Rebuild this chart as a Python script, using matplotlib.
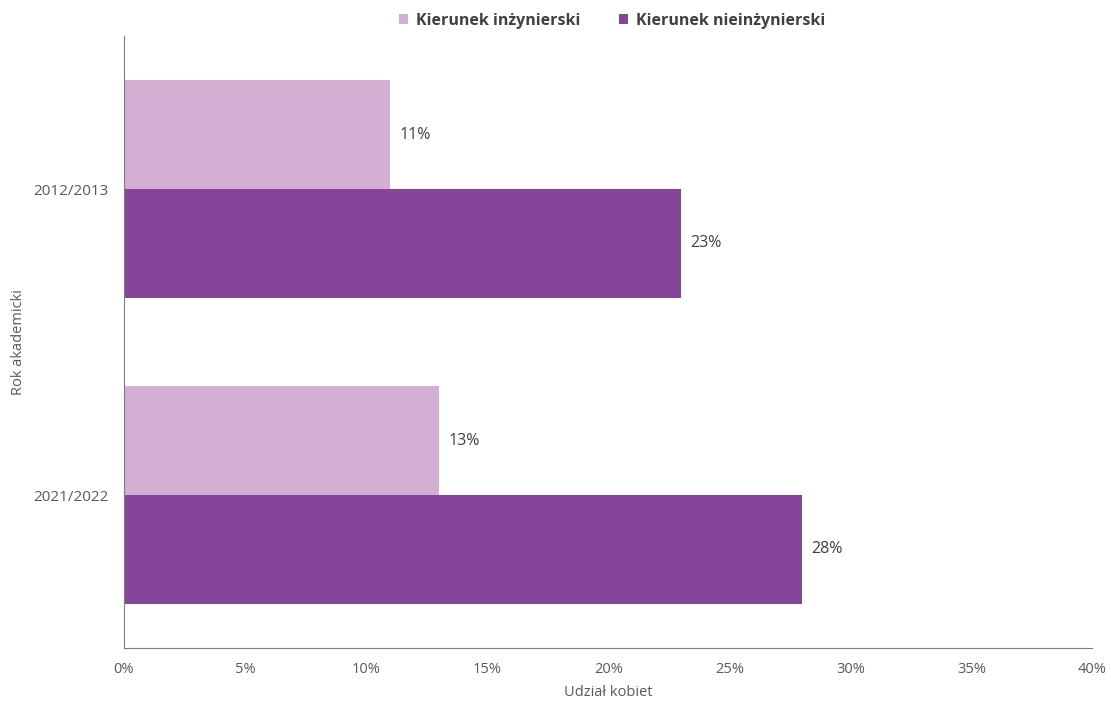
import numpy as np
import matplotlib.pyplot as plt

plt.rcParams['font.family'] = ['Open Sans', 'DejaVu Sans']

lata = ["2012/2013", "2021/2022"]
inzynierski = [11, 13]
nieinzynierski = [23, 28]
serie = ["Kierunek inżynierski", "Kierunek nieinżynierski"]
kolory = ["#D4AED3", "#874599"]

fig = plt.figure(figsize=(11.11, 7.01), dpi=100)
ax = fig.add_axes([0.1116, 0.0756, 0.8717, 0.873])

y = np.arange(len(lata))
h = 0.355
b1 = ax.barh(y - h / 2, inzynierski, height=h, color=kolory[0], label=serie[0])
b2 = ax.barh(y + h / 2, nieinzynierski, height=h, color=kolory[1], label=serie[1])

for bars in (b1, b2):
    for r in bars:
        w = r.get_width()
        ax.text(w + 0.4, r.get_y() + r.get_height() / 2, f"{w:.0f}%",
                va="center", ha="left", fontsize=11.5, color="#404040")

ax.set_xlim(0, 40)
ax.set_ylim(1.5, -0.5)
ax.set_xticks(range(0, 41, 5))
ax.set_xticklabels([f"{v}%" for v in range(0, 41, 5)])
ax.set_yticks(y)
ax.set_yticklabels(lata)
ax.tick_params(length=0, labelsize=10.5, labelcolor="#595959")
ax.tick_params(axis="x", pad=10)
ax.tick_params(axis="y", labelsize=11, pad=11)

for s in ("top", "right"):
    ax.spines[s].set_visible(False)
ax.spines["left"].set_color("#7F7F7F")
ax.spines["bottom"].set_color("#7F7F7F")

ax.set_xlabel("Udział kobiet", fontsize=10.5, color="#595959", labelpad=6)
ax.set_ylabel("Rok akademicki", fontsize=10.5, color="#595959")
ax.yaxis.set_label_coords(-0.101, 0.5)

fig.legend(handles=[b1, b2], labels=serie, loc="center", bbox_to_anchor=(0.551, 0.97),
           ncol=2, frameon=False, handlelength=0.6, handleheight=0.6,
           columnspacing=2.4, handletextpad=0.5,
           prop={"weight": "bold", "size": 11.5})
for t in fig.legends[0].get_texts():
    t.set_color("#404040")

fig.savefig("out.png", dpi=100)
